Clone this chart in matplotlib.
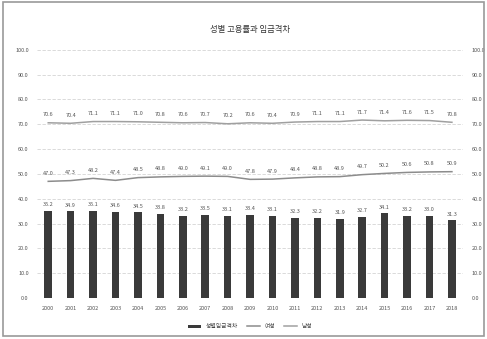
import matplotlib
matplotlib.use("Agg")
import matplotlib.pyplot as plt
from matplotlib.patches import Rectangle

plt.rcParams['font.family'] = ['Noto Sans CJK KR', 'DejaVu Sans']

years = [str(y) for y in range(2000, 2019)]
wage_gap = [35.2, 34.9, 35.1, 34.6, 34.5, 33.8, 33.2, 33.5, 33.1, 33.4,
            33.1, 32.3, 32.2, 31.9, 32.7, 34.1, 33.2, 33.0, 31.3]
female = [47.0, 47.3, 48.2, 47.4, 48.5, 48.8, 49.0, 49.1, 49.0, 47.8,
          47.9, 48.4, 48.8, 48.9, 49.7, 50.2, 50.6, 50.8, 50.9]
male = [70.6, 70.4, 71.1, 71.1, 71.0, 70.8, 70.6, 70.7, 70.2, 70.6,
        70.4, 70.9, 71.1, 71.1, 71.7, 71.4, 71.6, 71.5, 70.8]
yticks = [0, 10, 20, 30, 40, 50, 60, 70, 80, 90, 100]

fig = plt.figure(figsize=(4.87, 3.39), dpi=100)
ax = fig.add_axes([0.076, 0.121, 0.875, 0.732])
x = list(range(len(years)))

bars = ax.bar(x, wage_gap, width=0.34, color='#3a3a3a', zorder=3, label='성별임금격차')
l_f, = ax.plot(x, female, color='#8c8c8c', lw=1.1, zorder=4, label='여성')
l_m, = ax.plot(x, male, color='#a0a0a0', lw=1.1, zorder=4, label='남성')

lab_kw = dict(ha='center', va='bottom', fontsize=4.0, color='#555555')
for xi, v in zip(x, wage_gap):
    ax.text(xi, v + 1.5, f"{v:.1f}", **lab_kw)
for xi, v in zip(x, female):
    ax.text(xi, v + 2.2, f"{v:.1f}", **lab_kw)
for xi, v in zip(x, male):
    ax.text(xi, v + 2.2, f"{v:.1f}", **lab_kw)

ax.set_xlim(-0.5, len(years) - 0.5)
ax.set_ylim(0, 100)
ax.set_yticks(yticks)
ax.set_yticklabels([f"{t:.1f}" for t in yticks], fontsize=4.0, color='#555555')
ax.set_xticks(x)
ax.set_xticklabels(years, fontsize=4.0, color='#555555')
ax.tick_params(length=0, pad=6)
ax.grid(axis='y', color='#d4d4d4', lw=0.6, ls=(0, (4, 2)), zorder=0)
for s in ax.spines.values():
    s.set_visible(False)

ax2 = ax.twinx()
ax2.set_ylim(0, 100)
ax2.set_yticks(yticks)
ax2.set_yticklabels([f"{t:.1f}" for t in yticks], fontsize=4.0, color='#555555')
ax2.tick_params(length=0, pad=6)
for s in ax2.spines.values():
    s.set_visible(False)

fig.text(0.513, 0.912, "성별 고용률과 임금격차", ha='center', va='center',
         fontsize=6, color='#333333')

ax.legend(handles=[bars, l_f, l_m], loc='upper center', bbox_to_anchor=(0.5, -0.085),
          ncol=3, frameon=False, fontsize=4.2, handlelength=2.2, handleheight=0.5,
          columnspacing=1.5, labelcolor='#444444')

fig.patches.append(Rectangle((0.006, 0.01), 0.988, 0.985, transform=fig.transFigure,
                             fill=False, edgecolor='#9a9a9a', lw=1.2))

fig.savefig("out.png", dpi=100, facecolor='white')
